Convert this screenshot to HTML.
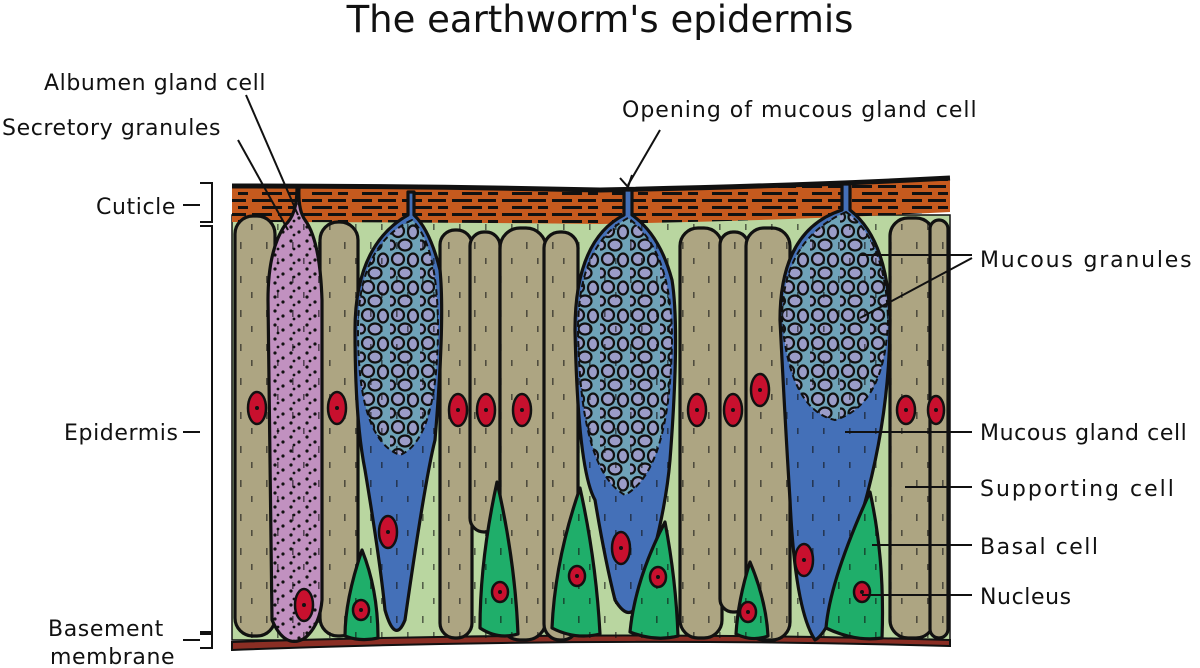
<!DOCTYPE html>
<html><head><meta charset="utf-8"><style>
body{margin:0;background:#fff;width:1200px;height:668px;overflow:hidden}
svg{display:block}
text{font-family:"DejaVu Sans","Liberation Sans",sans-serif;fill:#111}
</style></head><body>
<svg width="1200" height="668" viewBox="0 0 1200 668" xmlns="http://www.w3.org/2000/svg">
<defs>
<pattern id="dash" width="50" height="14" patternUnits="userSpaceOnUse">
<rect width="50" height="14" fill="#c65a1e"/>
<rect x="2" y="3" width="20" height="3" fill="#111"/><rect x="28" y="3" width="18" height="3" fill="#111"/>
<rect x="12" y="10" width="20" height="3" fill="#111"/><rect x="38" y="10" width="10" height="3" fill="#111"/>
</pattern>
<pattern id="gran" width="30" height="28" patternUnits="userSpaceOnUse">
<rect width="30" height="28" fill="#6fa3b8"/>
<ellipse cx="8" cy="7" rx="6" ry="6" fill="#9a9cc8" stroke="#111" stroke-width="2.2"/>
<ellipse cx="23" cy="8" rx="5" ry="6.5" fill="#9a9cc8" stroke="#111" stroke-width="2.2"/>
<ellipse cx="15" cy="21" rx="6.5" ry="5.5" fill="#9a9cc8" stroke="#111" stroke-width="2.2"/>
<ellipse cx="1" cy="21" rx="4" ry="4.5" fill="#9a9cc8" stroke="#111" stroke-width="2.2"/>
<ellipse cx="29" cy="21" rx="0" ry="0" fill="none"/>
</pattern>
<pattern id="dots" width="16" height="14" patternUnits="userSpaceOnUse">
<rect width="16" height="14" fill="#c191c0"/>
<circle cx="3" cy="3" r="1.6" fill="#111"/><circle cx="11" cy="8" r="1.6" fill="#111"/><circle cx="6" cy="11" r="1.4" fill="#111"/>
</pattern>
<pattern id="tick" width="26" height="34" patternUnits="userSpaceOnUse">
<rect x="6" y="4" width="1.6" height="7" fill="#111"/><rect x="17" y="20" width="1.6" height="6" fill="#111"/>
</pattern>
</defs>

<text x="600" y="32" font-size="37" text-anchor="middle">The earthworm's epidermis</text>

<path d="M232 215 L950 215 L950 640 L232 640 Z" fill="#b9d6a0" stroke="#111" stroke-width="1.5"/>
<path d="M232 186 Q420 186 600 190 Q800 186 950 178 L950 212 Q800 220 600 224 Q420 222 232 222 Z" fill="url(#dash)"/>
<path d="M232 186 Q420 186 600 190 Q800 186 950 178" fill="none" stroke="#111" stroke-width="5"/>
<path d="M232 642 Q600 630 950 640 L950 646 Q600 636 232 650 Z" fill="#8a2e24" stroke="#111" stroke-width="2"/>

<g stroke="#111" stroke-width="3.2" stroke-linejoin="round">
<g fill="#ada582">
<rect x="235" y="216" width="40" height="420" rx="18"/>
<rect x="320" y="222" width="38" height="414" rx="18"/>
<rect x="440" y="230" width="32" height="408" rx="15"/>
<rect x="470" y="232" width="30" height="300" rx="14"/>
<rect x="500" y="228" width="46" height="412" rx="20"/>
<rect x="544" y="232" width="34" height="408" rx="16"/>
<rect x="680" y="228" width="42" height="410" rx="18"/>
<rect x="720" y="232" width="28" height="380" rx="13"/>
<rect x="746" y="228" width="44" height="412" rx="18"/>
<rect x="890" y="218" width="44" height="420" rx="18"/>
<rect x="930" y="220" width="18" height="418" rx="9"/>
</g>
<path d="M297 188 Q297 215 285 225 Q268 250 268 300 L272 620 Q285 650 305 638 Q320 625 322 600 L322 300 Q320 240 305 220 Q298 210 299 188 Z" fill="url(#dots)"/>
<g fill="#4470b8">
<path d="M408 192 L408 215 Q355 245 355 330 Q355 420 365 470 Q380 560 385 610 Q395 645 405 620 Q425 480 435 440 Q445 320 440 270 Q430 230 414 215 L414 192 Z"/>
<path d="M624 190 L624 215 Q575 240 575 330 Q578 470 595 500 Q605 560 615 600 Q630 625 640 600 Q665 520 670 460 Q680 330 672 280 Q660 235 632 215 L632 190 Z"/>
<path d="M842 184 L842 210 Q780 230 780 320 Q785 420 790 500 Q795 610 815 640 Q835 630 860 520 Q890 420 890 320 Q888 240 850 210 L850 184 Z"/>
</g>
<g fill="url(#gran)" stroke-width="2" stroke-dasharray="6 4">
<path d="M412 220 Q358 245 358 330 Q358 440 400 455 Q437 440 438 330 Q438 245 412 220 Z"/>
<path d="M628 218 Q578 245 578 330 Q580 470 625 495 Q670 470 672 340 Q672 250 628 218 Z"/>
<path d="M846 212 Q782 240 782 320 Q790 410 835 420 Q885 405 888 320 Q886 240 846 212 Z"/>
</g>
<g fill="#1fae6a">
<path d="M362 550 Q345 600 345 636 Q360 642 378 638 Q378 590 362 550 Z"/>
<path d="M497 482 Q480 560 480 628 Q498 640 518 634 Q515 560 497 482 Z"/>
<path d="M580 488 Q555 560 552 628 Q575 640 600 634 Q596 560 580 488 Z"/>
<path d="M665 522 Q635 580 630 632 Q655 642 678 636 Q676 580 665 522 Z"/>
<path d="M750 562 Q738 600 736 634 Q752 642 768 636 Q766 600 750 562 Z"/>
<path d="M870 492 Q830 580 826 628 Q855 642 882 638 Q885 560 870 492 Z"/>
</g>
<rect x="235" y="216" width="713" height="422" fill="url(#tick)" stroke="none" opacity="0.6"/>
<g fill="#c8102e" stroke-width="2.5">
<ellipse cx="257" cy="408" rx="9" ry="16"/><ellipse cx="337" cy="408" rx="9" ry="16"/>
<ellipse cx="458" cy="410" rx="9" ry="16"/><ellipse cx="486" cy="410" rx="9" ry="16"/>
<ellipse cx="522" cy="410" rx="9" ry="16"/><ellipse cx="697" cy="410" rx="9" ry="16"/>
<ellipse cx="733" cy="410" rx="9" ry="16"/><ellipse cx="760" cy="390" rx="9" ry="16"/>
<ellipse cx="906" cy="410" rx="9" ry="14"/><ellipse cx="936" cy="410" rx="8" ry="14"/>
<ellipse cx="304" cy="605" rx="9" ry="16"/><ellipse cx="388" cy="532" rx="9" ry="16"/>
<ellipse cx="621" cy="548" rx="9" ry="16"/><ellipse cx="804" cy="560" rx="9" ry="16"/>
<ellipse cx="361" cy="610" rx="8" ry="10"/><ellipse cx="500" cy="592" rx="8" ry="10"/>
<ellipse cx="577" cy="576" rx="8" ry="10"/><ellipse cx="658" cy="577" rx="8" ry="10"/>
<ellipse cx="748" cy="612" rx="8" ry="10"/><ellipse cx="862" cy="592" rx="8" ry="10"/>
</g>
</g>
<g fill="#111">
<circle cx="257" cy="408" r="2"/><circle cx="337" cy="408" r="2"/><circle cx="458" cy="410" r="2"/><circle cx="486" cy="410" r="2"/><circle cx="522" cy="410" r="2"/><circle cx="697" cy="410" r="2"/><circle cx="733" cy="410" r="2"/><circle cx="760" cy="390" r="2"/><circle cx="906" cy="410" r="2"/><circle cx="936" cy="410" r="2"/><circle cx="304" cy="605" r="2"/><circle cx="388" cy="532" r="2"/><circle cx="621" cy="548" r="2"/><circle cx="804" cy="560" r="2"/><circle cx="361" cy="610" r="2"/><circle cx="500" cy="592" r="2"/><circle cx="577" cy="576" r="2"/><circle cx="658" cy="577" r="2"/><circle cx="748" cy="612" r="2"/><circle cx="862" cy="592" r="2"/>
</g>

<g stroke="#111" stroke-width="2" fill="none">
<line x1="246" y1="95" x2="298" y2="215"/>
<line x1="238" y1="140" x2="288" y2="230"/>
<line x1="660" y1="130" x2="628" y2="185"/>
<path d="M620 178 L628 187 L632 175"/>
<line x1="972" y1="255" x2="860" y2="255"/>
<line x1="972" y1="258" x2="860" y2="318"/>
<line x1="972" y1="432" x2="845" y2="432"/>
<line x1="972" y1="487" x2="905" y2="487"/>
<line x1="972" y1="545" x2="872" y2="545"/>
<line x1="972" y1="595" x2="862" y2="595"/>
<path d="M200 183 L212 183 L212 222 L200 222"/>
<line x1="183" y1="205" x2="200" y2="205"/>
<path d="M200 226 L212 226 L212 632 L200 632"/>
<line x1="183" y1="432" x2="200" y2="432"/>
<path d="M200 634 L212 634 L212 648 L200 648"/>
<line x1="183" y1="640" x2="200" y2="640"/>
</g>

<g font-size="22" letter-spacing="0.6">
<text x="44" y="90">Albumen gland cell</text>
<text x="2" y="135">Secretory granules</text>
<text x="622" y="117" letter-spacing="1">Opening of mucous gland cell</text>
<text x="96" y="214">Cuticle</text>
<text x="64" y="440">Epidermis</text>
<text x="48" y="636">Basement</text>
<text x="50" y="664">membrane</text>
<text x="980" y="267" letter-spacing="1.8">Mucous granules</text>
<text x="980" y="440">Mucous gland cell</text>
<text x="980" y="496" letter-spacing="2">Supporting cell</text>
<text x="980" y="554" letter-spacing="1.5">Basal cell</text>
<text x="980" y="604">Nucleus</text>
</g>
</svg>
</body></html>
